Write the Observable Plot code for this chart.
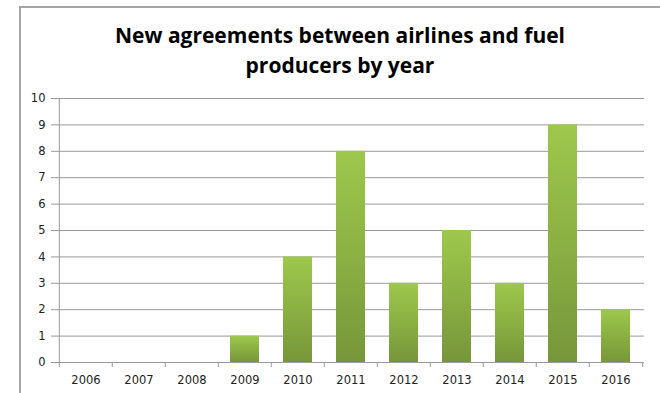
<!DOCTYPE html>
<html>
<head>
<meta charset="utf-8">
<script src="https://cdn.jsdelivr.net/npm/d3@7"></script>
<script src="https://cdn.jsdelivr.net/npm/@observablehq/plot@0.6"></script>
<style>
  html, body { margin: 0; padding: 0; background: #fff; }
  #wrap { position: relative; width: 660px; height: 393px; overflow: hidden; background: #fff; }
  #frame { position: absolute; left: 19px; top: 6px; right: -2px; bottom: -2px;
           border-left: 2px solid #a6a6a6; border-top: 2px solid #a6a6a6; pointer-events: none; }
  #title { position: relative; height: 85px; box-sizing: border-box; padding-left: 20px; padding-top: 20px;
           text-align: center; font-family: "Open Sans", "Noto Sans", sans-serif; font-weight: bold;
           font-size: 21px; line-height: 30px; color: #000; letter-spacing: 0px; }
  #chart svg { display: block; }
</style>
</head>
<body>
<div id="wrap">
  <div id="frame"></div>
  <div id="title">New agreements between airlines and fuel<br>producers by year</div>
  <div id="chart"></div>
</div>
<script>
const years = ["2006","2007","2008","2009","2010","2011","2012","2013","2014","2015","2016"];
const agreements = [0, 0, 0, 1, 4, 8, 3, 5, 3, 9, 2];
const yTicks = [0,1,2,3,4,5,6,7,8,9,10];

const data = years.map((y, i) => ({year: y, value: agreements[i]}));

const W = 660, H = 308, mL = 56, mR = 16, mT = 13, mB = 31;
const step = (W - mL - mR) / years.length;
const gridColor = "#9a9a9a";

const plot = Plot.plot({
  width: W,
  height: H,
  marginLeft: mL,
  marginRight: mR,
  marginTop: mT,
  marginBottom: mB,
  style: {fontFamily: "'DejaVu Sans', Verdana, sans-serif", fontSize: "11.5px", color: "#222", background: "#fff"},
  x: {domain: years, paddingInner: 0.457, paddingOuter: 0.2285, align: 0.5},
  y: {domain: [0, 10]},
  marks: [
    Plot.gridY(yTicks, {stroke: gridColor, strokeOpacity: 1, strokeWidth: 1}),
    Plot.axisY(yTicks, {tickSize: 5, tickPadding: 6, stroke: gridColor, label: null, fill: "#222", fontSize: 11.5}),
    Plot.ruleX([0], {x: () => years[0], dx: -step / 2, stroke: gridColor}),
    Plot.barY(data, {x: "year", y: "value", fill: "url(#barGrad)"}),
    Plot.ruleY([0], {stroke: gridColor}),
    Plot.axisX(years, {tickSize: 5, dx: -step / 2, stroke: gridColor, text: null, label: null}),
    Plot.axisX([years[years.length - 1]], {tickSize: 5, dx: step / 2, stroke: gridColor, text: null, label: null}),
    Plot.axisX(years, {tickSize: 0, tickPadding: 13, label: null, fill: "#222", fontSize: 11.5})
  ]
});

// gradient definition for the bars
const ns = "http://www.w3.org/2000/svg";
const defs = document.createElementNS(ns, "defs");
const grad = document.createElementNS(ns, "linearGradient");
grad.setAttribute("id", "barGrad");
grad.setAttribute("x1", "0"); grad.setAttribute("y1", "0");
grad.setAttribute("x2", "0"); grad.setAttribute("y2", "1");
[["0%", "#9dc84c"], ["50%", "#8bb043"], ["100%", "#77963a"]].forEach(([o, c]) => {
  const s = document.createElementNS(ns, "stop");
  s.setAttribute("offset", o);
  s.setAttribute("stop-color", c);
  grad.appendChild(s);
});
defs.appendChild(grad);
plot.insertBefore(defs, plot.firstChild);

document.getElementById("chart").appendChild(plot);
</script>
</body>
</html>
